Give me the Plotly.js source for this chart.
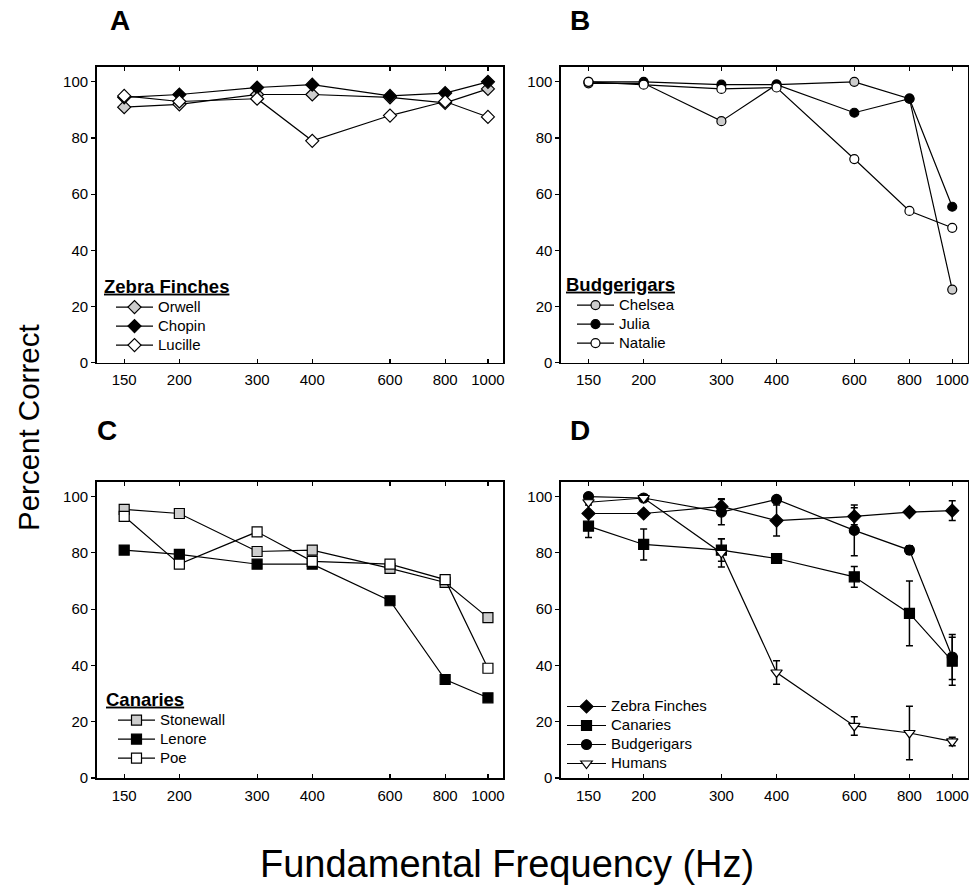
<!DOCTYPE html>
<html><head><meta charset="utf-8">
<script src="https://cdn.plot.ly/plotly-3.0.1.min.js"></script>
<style>html,body{margin:0;padding:0;background:#fff}</style>
</head><body><div id="chart" style="width:972px;height:890px"></div>
<script>
// ---- data ----
const freqs = [150, 200, 300, 400, 600, 800, 1000];
const freqTickLabels = ['150', '200', '300', '400', '600', '800', '1000'];
const pctTicks = [0, 20, 40, 60, 80, 100];

// Panel A: Zebra Finches
const orwell  = [91, 92, 95.5, 95.5, 94.5, 92.5, 97.5];
const chopin  = [94.5, 95.5, 98, 99, 95, 96, 100];
const lucille = [95, 93, 94, 79, 88, 93, 87.5];

// Panel B: Budgerigars
const chelsea = [99.5, 99.5, 86, 99, 100, 94, 26];
const julia   = [100, 100, 99, 99, 89, 94, 55.5];
const natalie = [100, 99, 97.5, 98, 72.5, 54, 48];

// Panel C: Canaries
const stonewall = [95.5, 94, 80.5, 81, 74.5, 69.5, 57];
const lenore    = [81, 79.5, 76, 76, 63, 35, 28.5];
const poe       = [93, 76, 87.5, 77, 76, 70.5, 39];

// Panel D: group means and error bars
const zfMean = [94, 94, 96.5, 91.5, 93, 94.5, 95];
const zfErr  = [1, 1, 2.7, 5.5, 3, 1, 3.5];
const caMean = [89.5, 83, 81, 78, 71.5, 58.5, 41.5];
const caErr  = [4, 5.5, 4, 1, 3.7, 11.5, 8.5];
const buMean = [100, 99.5, 94.5, 99, 88, 81, 43];
const buErr  = [0.5, 0.5, 4.5, 0.5, 9, 1.5, 8];
const huMean = [98, 99.5, 80, 37.5, 18.5, 16, 13];
const huErr  = [1, 0.5, 5, 4.2, 3.3, 9.5, 1.5];

const GRAY = '#cdcdcd';
const FONT = 'Liberation Sans, Arial, Helvetica, sans-serif';

function nm(s) { return '<span style="font-size:15px">' + s + '</span>'; }

function tr(name, y, symbol, fill, size, ax, legend, err) {
  const t = {
    type: 'scatter', mode: 'lines+markers', name: nm(name),
    x: freqs, y: y,
    xaxis: 'x' + (ax === 1 ? '' : ax), yaxis: 'y' + (ax === 1 ? '' : ax),
    legend: legend,
    line: {color: '#000', width: 1.2},
    marker: {symbol: symbol, size: size, color: fill, line: {color: '#000', width: 1.2}},
    cliponaxis: false
  };
  if (err) t.error_y = {type: 'data', array: err, visible: true, color: '#000', thickness: 1.5, width: 3.5};
  return t;
}

const data = [
  tr('Orwell', orwell, 'diamond', GRAY, 10, 1, 'legend'),
  tr('Chopin', chopin, 'diamond', '#000', 10, 1, 'legend'),
  tr('Lucille', lucille, 'diamond', '#fff', 10, 1, 'legend'),
  tr('Chelsea', chelsea, 'circle', GRAY, 9, 2, 'legend2'),
  tr('Julia', julia, 'circle', '#000', 9, 2, 'legend2'),
  tr('Natalie', natalie, 'circle', '#fff', 9, 2, 'legend2'),
  tr('Stonewall', stonewall, 'square', GRAY, 10, 3, 'legend3'),
  tr('Lenore', lenore, 'square', '#000', 10, 3, 'legend3'),
  tr('Poe', poe, 'square', '#fff', 10, 3, 'legend3'),
  tr('Zebra Finches', zfMean, 'diamond', '#000', 10, 4, 'legend4', zfErr),
  tr('Canaries', caMean, 'square', '#000', 10, 4, 'legend4', caErr),
  tr('Budgerigars', buMean, 'circle', '#000', 10, 4, 'legend4', buErr),
  tr('Humans', huMean, 'triangle-down', '#fff', 10, 4, 'legend4', huErr)
];

const W = 972, H = 890;
const xL = [96.7 / W, 503.3 / W];
const xR = [561 / W, 967.6 / W];
const yT = [1 - 362.5 / H, 1 - 67 / H];
const yB = [1 - 778 / H, 1 - 481.7 / H];

function xax(dom, anchor) {
  return {
    domain: dom, anchor: anchor, type: 'log',
    range: [2.1138, 3.0348],
    tickvals: freqs, ticktext: freqTickLabels,
    ticks: 'inside', ticklen: 4, tickwidth: 1.2, tickcolor: '#000',
    showline: true, linecolor: '#000', linewidth: 1.6, mirror: 'ticks',
    showgrid: false, zeroline: false, ticklabelstandoff: 3,
    tickfont: {family: FONT, size: 15, color: '#000'}
  };
}
function yax(dom, anchor) {
  return {
    domain: dom, anchor: anchor, range: [0, 105.3],
    tickvals: pctTicks,
    ticks: 'outside', ticklen: 4, tickwidth: 1.2, tickcolor: '#000',
    showline: true, linecolor: '#000', linewidth: 1.6, mirror: true,
    showgrid: false, zeroline: false,
    tickfont: {family: FONT, size: 15, color: '#000'}
  };
}

function leg(x, y, title, indent, iw) {
  const l = {
    x: x, y: y, xref: 'paper', yref: 'paper', xanchor: 'left', yanchor: 'top',
    bgcolor: 'rgba(0,0,0,0)', borderwidth: 0, itemwidth: iw, indentation: indent,
    font: {family: FONT, size: 12, color: '#000'},
    tracegroupgap: 0, itemclick: false
  };
  if (title) l.title = {
    text: '<span style="font-size:18.5px"><b><u>' + title + '</u></b></span>',
    font: {family: FONT, size: 22, color: '#000'}
  };
  return l;
}

const annFont = {family: FONT, size: 28, color: '#000'};
function ann(text, x, y, font, angle) {
  return {text: text, x: x / W, y: 1 - y / H, xref: 'paper', yref: 'paper', showarrow: false,
          xanchor: 'center', yanchor: 'middle', font: font, textangle: angle || 0};
}
const layout = {
  width: W, height: H,
  margin: {l: 0, r: 0, t: 0, b: 0},
  paper_bgcolor: '#fff', plot_bgcolor: '#fff',
  showlegend: true,
  xaxis: xax(xL, 'y'), yaxis: yax(yT, 'x'),
  xaxis2: xax(xR, 'y2'), yaxis2: yax(yT, 'x2'),
  xaxis3: xax(xL, 'y3'), yaxis3: yax(yB, 'x3'),
  xaxis4: xax(xR, 'y4'), yaxis4: yax(yB, 'x4'),
  legend: leg(102 / W, 1 - 264 / H, 'Zebra Finches', 9, 37),
  legend2: leg(564 / W, 1 - 262 / H, 'Budgerigars', 8, 37),
  legend3: leg(104 / W, 1 - 677 / H, 'Canaries', 9, 37),
  legend4: leg(562 / W, 1 - 692 / H, null, 0, 39),
  annotations: [
    ann('<b>A</b>', 120, 20, annFont),
    ann('<b>B</b>', 580, 20, annFont),
    ann('<b>C</b>', 107, 430, annFont),
    ann('<b>D</b>', 580, 430, annFont),
    ann('Percent Correct', 28, 428, {family: FONT, size: 29.5, color: '#000'}, -90),
    ann('Fundamental Frequency (Hz)', 507, 864, {family: FONT, size: 38, color: '#000'})
  ]
};

Plotly.newPlot('chart', data, layout, {displayModeBar: false, staticPlot: true});
</script>
</body></html>
